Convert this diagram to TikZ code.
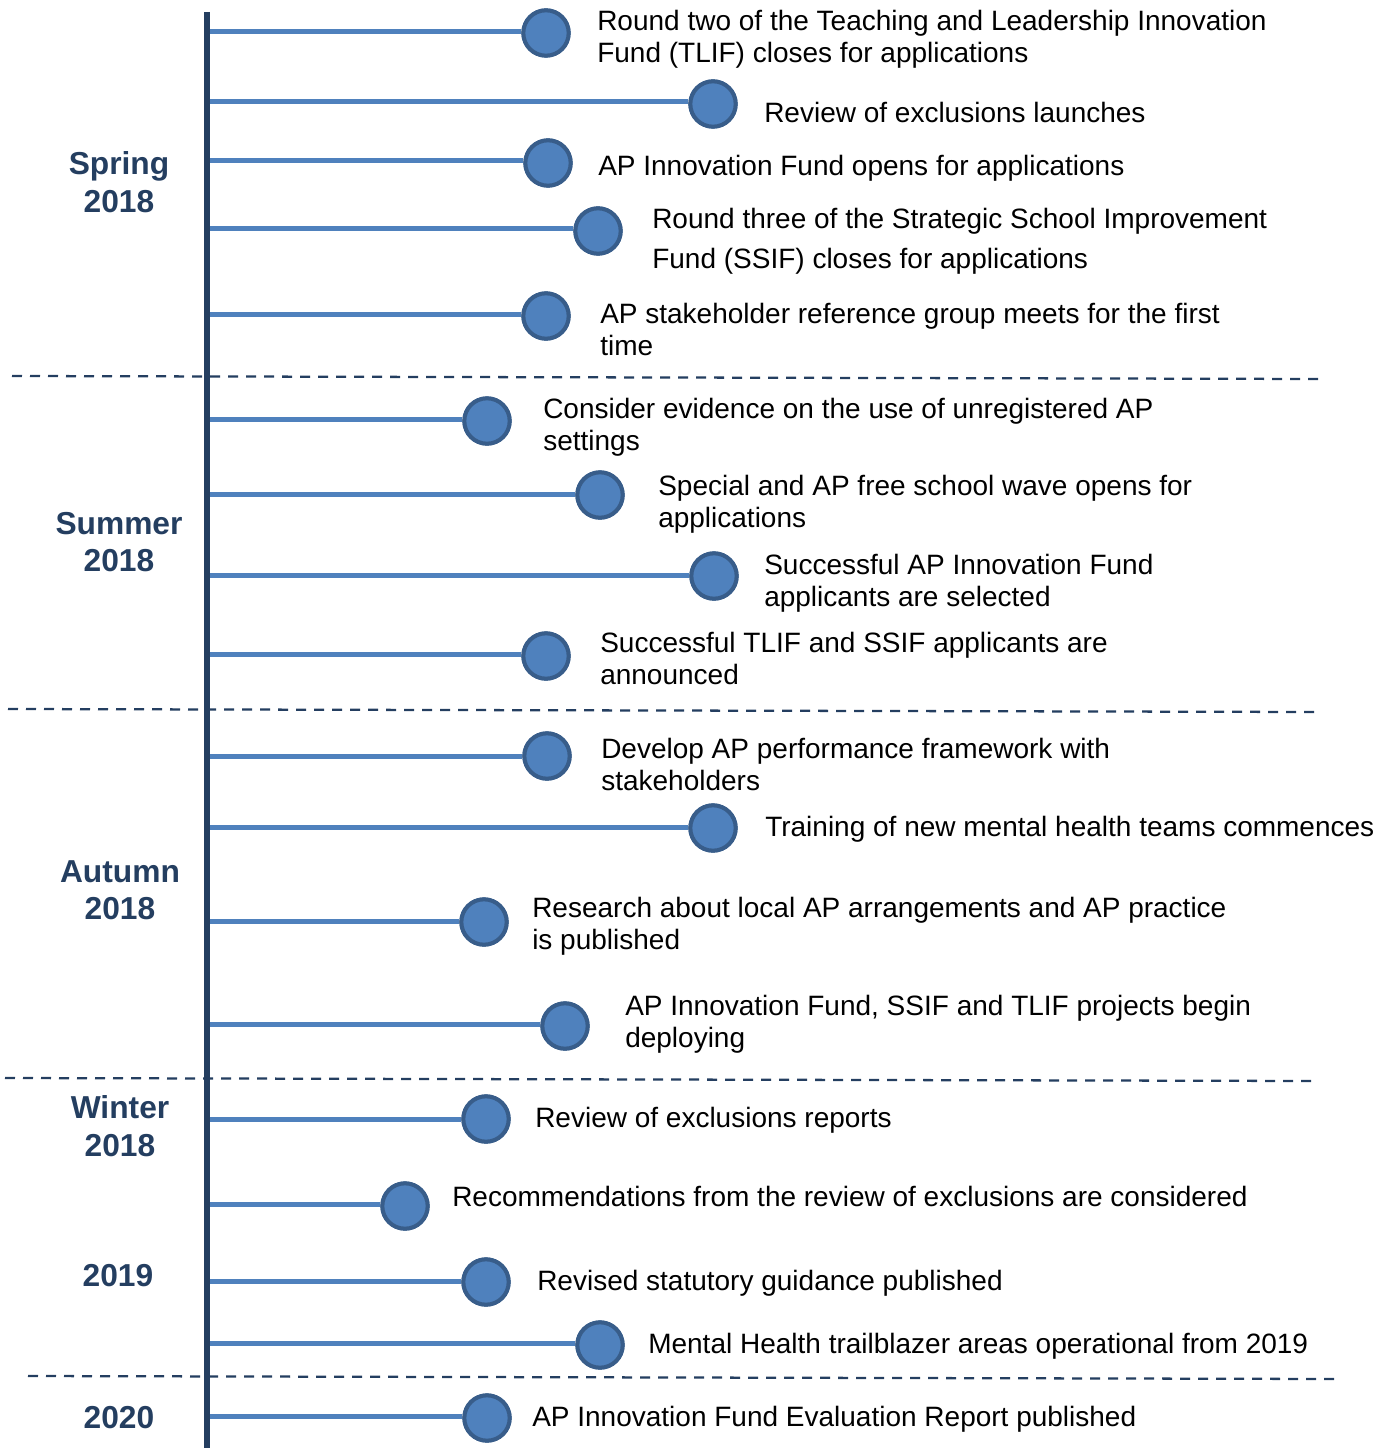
\documentclass[tikz,border=0pt]{standalone}
\usepackage{fontspec}
\setmainfont{Liberation Sans}
\definecolor{navy}{RGB}{36,62,96}
\definecolor{accent}{RGB}{79,129,189}
\definecolor{ring}{RGB}{56,93,138}
\begin{document}
\begin{tikzpicture}[x=0.75pt,y=-0.75pt,
 dot/.style={circle,fill=accent,draw=ring,line width=3pt,minimum size=34pt,inner sep=0pt},
 stem/.style={draw=accent,line width=3.75pt},
 evt/.style={anchor=west,align=left,inner sep=0pt,yshift=-1.1pt,font=\fontsize{21}{24}\selectfont},
 season/.style={align=center,inner sep=0pt,text=navy,font=\bfseries\fontsize{23.8}{28}\selectfont},
 divider/.style={draw=navy,line width=1.7pt,dash pattern=on 7.5pt off 6pt},
 axisline/.style={draw=navy,line width=4pt}]
\useasboundingbox (0,0) rectangle (1388,1448);

% dividers
\coordinate (d1a) at (12,376); \coordinate (d1b) at (1322,379);
\coordinate (d2a) at (8,709);  \coordinate (d2b) at (1318,712);
\coordinate (d3a) at (5,1078); \coordinate (d3b) at (1315,1081);
\coordinate (d4a) at (28,1376); \coordinate (d4b) at (1338,1379);
\draw[divider] (d1a) -- (d1b);
\draw[divider] (d2a) -- (d2b);
\draw[divider] (d3a) -- (d3b);
\draw[divider] (d4a) -- (d4b);

% seasons
\node[season] (s1) at (119,182) {Spring\\2018};
\node[season] (s2) at (119,542) {Summer\\2018};
\node[season] (s3) at (120,890) {Autumn\\2018};
\node[season] (s4) at (120,1126) {Winter\\2018};
\node[season] (s5) at (118,1276) {2019};
\node[season] (s6) at (119,1418) {2020};

% events
\coordinate (a1) at (207,32);  \node[dot] (c1) at (546,33) {};
\coordinate (a2) at (207,102); \node[dot] (c2) at (713,104) {};
\coordinate (a3) at (207,161); \node[dot] (c3) at (548,163) {};
\coordinate (a4) at (207,229); \node[dot] (c4) at (598,231) {};
\coordinate (a5) at (207,314); \node[dot] (c5) at (546,316) {};
\coordinate (a6) at (207,419); \node[dot] (c6) at (487,421) {};
\coordinate (a7) at (207,494); \node[dot] (c7) at (600,495) {};
\coordinate (a8) at (207,575); \node[dot] (c8) at (714,576) {};
\coordinate (a9) at (207,654); \node[dot] (c9) at (546,656) {};
\coordinate (a10) at (207,756); \node[dot] (c10) at (547,756) {};
\coordinate (a11) at (207,827); \node[dot] (c11) at (713,828) {};
\coordinate (a12) at (207,921); \node[dot] (c12) at (484,922) {};
\coordinate (a13) at (207,1024); \node[dot] (c13) at (565,1026) {};
\coordinate (a14) at (207,1119); \node[dot] (c14) at (486,1119) {};
\coordinate (a15) at (207,1204); \node[dot] (c15) at (405,1206) {};
\coordinate (a16) at (207,1281); \node[dot] (c16) at (486,1282) {};
\coordinate (a17) at (207,1343); \node[dot] (c17) at (600,1345) {};
\coordinate (a18) at (207,1416); \node[dot] (c18) at (487,1418) {};

\foreach \i in {1,...,18} {\draw[stem] (a\i) -- (a\i -| c\i.west);}

% timeline axis
\coordinate (top) at (207,12); \coordinate (bottom) at (207,1448);
\draw[axisline] (top) -- (bottom);

% redraw circles on top
\foreach \i in {1,...,18} {\node[dot] at (c\i) {};}

\node[evt] (t1) at (597,38) {Round two of the Teaching and Leadership Innovation\\Fund (TLIF) closes for applications};
\node[evt] (t2) at (764,111) {Review of exclusions launches};
\node[evt] (t3) at (598,167) {AP Innovation Fund opens for applications};
\node[evt] (t4) at (652,240) {Round three of the Strategic School Improvement\\[6pt]Fund (SSIF) closes for applications};
\node[evt] (t5) at (600,328) {AP stakeholder reference group meets for the first\\time};
\node[evt] (t6) at (543,426) {Consider evidence on the use of unregistered AP\\settings};
\node[evt] (t7) at (658,503) {Special and AP free school wave opens for\\applications};
\node[evt] (t8) at (764,582) {Successful AP Innovation Fund\\applicants are selected};
\node[evt] (t9) at (600,657) {Successful TLIF and SSIF applicants are\\announced};
\node[evt] (t10) at (601,763) {Develop AP performance framework with\\stakeholders};
\node[evt] (t11) at (765,828) {Training of new mental health teams commences};
\node[evt] (t12) at (532,925) {Research about local AP arrangements and AP practice\\is published};
\node[evt] (t13) at (625,1023) {AP Innovation Fund, SSIF and TLIF projects begin\\deploying};
\node[evt] (t14) at (535,1119) {Review of exclusions reports};
\node[evt] (t15) at (452,1195) {Recommendations from the review of exclusions are considered};
\node[evt] (t16) at (537,1282) {Revised statutory guidance published};
\node[evt] (t17) at (648,1345) {Mental Health trailblazer areas operational from 2019};
\node[evt] (t18) at (532,1418) {AP Innovation Fund Evaluation Report published};
\end{tikzpicture}
\end{document}
